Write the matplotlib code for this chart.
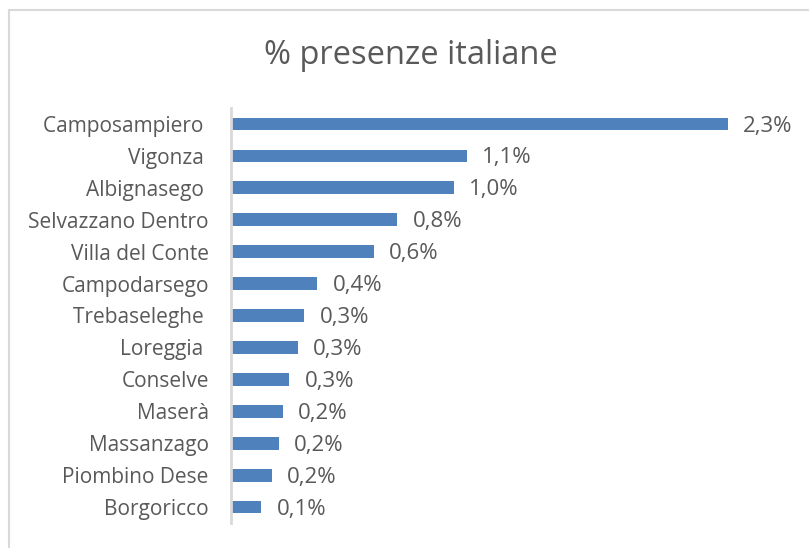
import matplotlib.pyplot as plt
from matplotlib.patches import Rectangle

# data (bar lengths, in %)
comuni = ['Camposampiero ', 'Vigonza ', 'Albignasego ', 'Selvazzano Dentro',
          'Villa del Conte', 'Campodarsego', 'Trebaseleghe ', 'Loreggia ',
          'Conselve', 'Maserà', 'Massanzago', 'Piombino Dese', 'Borgoricco']
valori = [2.30, 1.09, 1.03, 0.77, 0.66, 0.40, 0.34, 0.31, 0.27, 0.24, 0.22, 0.19, 0.14]
etichette = ['2,3%', '1,1%', '1,0%', '0,8%', '0,6%', '0,4%', '0,3%', '0,3%',
             '0,3%', '0,2%', '0,2%', '0,2%', '0,1%']

plt.rcParams['font.family'] = ['Open Sans', 'DejaVu Sans']
testo = '#595959'

fig = plt.figure(figsize=(8.09, 5.48), dpi=100)
W, H = 809, 548

# outer chart frame (light gray, runs off the right/bottom edge)
fig.patches.append(Rectangle((9 / W, -0.1), 1.2, 1 - 10 / H + 0.1,
                             transform=fig.transFigure, fill=False,
                             edgecolor='#D9D9D9', linewidth=1.5))

ax = fig.add_axes([231 / W, (H - 523) / H, (728 - 231) / W, (523 - 108) / H])

pos = list(range(len(comuni)))
ax.barh(pos, valori, height=0.4, color='#4F81BD')
ax.set_ylim(len(comuni) - 0.5, -0.5)
ax.set_xlim(0, max(valori))

for p, v, t in zip(pos, valori, etichette):
    ax.annotate(t, (v, p), xytext=(11, -1.5), textcoords='offset points',
                va='center', ha='left', fontsize=16, color=testo,
                annotation_clip=False)

ax.set_yticks(pos)
ax.set_yticklabels(comuni, fontsize=15, color=testo)
ax.tick_params(axis='y', length=0, pad=16)
ax.set_xticks([])
for s in ['top', 'right', 'bottom']:
    ax.spines[s].set_visible(False)
ax.spines['left'].set_color('#D9D9D9')
ax.spines['left'].set_linewidth(2)

fig.text(411 / W, 1 - 55 / H, '% presenze italiane', ha='center', va='center',
         fontsize=23.5, color=testo)

fig.savefig('out.png', dpi=100)
